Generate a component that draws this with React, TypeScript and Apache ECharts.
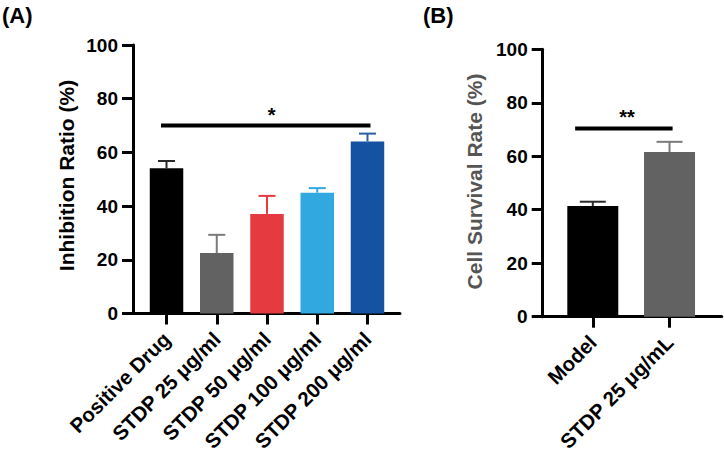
import React, { useEffect, useRef } from "react";
import * as echarts from "echarts";

const categoriesA = ["Positive Drug", "STDP 25 μg/ml", "STDP 50 μg/ml", "STDP 100 μg/ml", "STDP 200 μg/ml"];
const valuesA = [54.1, 22.5, 37.1, 45.0, 64.1];
const errorsA = [2.7, 6.8, 6.7, 1.7, 2.9];
const colorsA = ["#000000", "#626262", "#e43a40", "#31a9e0", "#1552a2"];
const errColorsA = ["#2a2a2a", "#7a7a7a", "#e43a40", "#31a9e0", "#2a5fa8"];

const categoriesB = ["Model", "STDP 25 μg/mL"];
const valuesB = [41.4, 61.6];
const errorsB = [1.6, 3.8];
const colorsB = ["#000000", "#626262"];
const errColorsB = ["#2a2a2a", "#7a7a7a"];

const yTickLabels = ["0", "20", "40", "60", "80", "100"];

// [from, to, y, labelX]
const sigA = [-0.11, 4.06, 70, 2.09];
const sigLabelA = "*";
const sigB = [-0.23, 1.04, 70.4, 0.446];
const sigLabelB = "**";

const FONT = "'Liberation Sans', Arial, Helvetica, sans-serif";

export default function App() {
  const ref = useRef<HTMLDivElement>(null);
  useEffect(() => {
    document.body.style.margin = "0";
    if (!ref.current) return;
    const chart = echarts.init(ref.current, undefined, { renderer: "svg" });

    const axisLine = { show: true, onZero: false, lineStyle: { color: "#000", width: 3 } };
    const axisTick = { show: true, length: 11, lineStyle: { color: "#000", width: 3 } };
    const labelStyle = { fontSize: 19, fontWeight: "bold", color: "#000", fontFamily: FONT };

    const yAxis = (gi: number) => ({
      gridIndex: gi,
      type: "value",
      min: 0,
      max: 100,
      interval: 20,
      axisLine,
      axisTick,
      splitLine: { show: false },
      axisLabel: { ...labelStyle, margin: 15, formatter: (v: number) => yTickLabels[Math.round(v / 20)] },
    });

    const xAxis = (gi: number, min: number, max: number, cats: string[]) => {
      const idx = cats.map((_, i) => i);
      return {
        gridIndex: gi,
        type: "value",
        min,
        max,
        axisLine,
        axisTick: { ...axisTick, customValues: idx },
        splitLine: { show: false },
        axisLabel: {
          ...labelStyle,
          fontSize: 20.5,
          lineHeight: 16,
          customValues: idx,
          rotate: 45,
          margin: 22,
          formatter: (v: number) => cats[Math.round(v)],
        },
      };
    };

    const errSeries = (gi: number, vals: number[], errs: number[], cols: string[], half: number) => ({
      type: "custom",
      xAxisIndex: gi,
      yAxisIndex: gi,
      z: 5,
      data: vals.map((v, i) => [i, v, errs[i]]),
      renderItem: (params: any, api: any) => {
        const x = api.value(0);
        const v = api.value(1);
        const e = api.value(2);
        const base = api.coord([x, v]);
        const top = api.coord([x, v + e]);
        const stroke = cols[params.dataIndex];
        return {
          type: "group",
          children: [
            { type: "line", shape: { x1: base[0], y1: base[1], x2: top[0], y2: top[1] }, style: { stroke, lineWidth: 2 } },
            { type: "line", shape: { x1: top[0] - half, y1: top[1], x2: top[0] + half, y2: top[1] }, style: { stroke, lineWidth: 2 } },
          ],
        };
      },
    });

    const sigSeries = (gi: number, sig: number[], label: string) => ({
      type: "custom",
      xAxisIndex: gi,
      yAxisIndex: gi,
      z: 6,
      data: [sig],
      renderItem: (params: any, api: any) => {
        const p1 = api.coord([api.value(0), api.value(2)]);
        const p2 = api.coord([api.value(1), api.value(2)]);
        const pl = api.coord([api.value(3), api.value(2)]);
        return {
          type: "group",
          children: [
            { type: "line", shape: { x1: p1[0], y1: p1[1], x2: p2[0], y2: p2[1] }, style: { stroke: "#000", lineWidth: 4 } },
            {
              type: "text",
              x: pl[0],
              y: pl[1] - 21,
              style: { text: label, fontSize: 20, fontWeight: "bold", fill: "#000", fontFamily: FONT, align: "center", verticalAlign: "top" },
            },
          ],
        };
      },
    });

    const barSeries = (gi: number, vals: number[], cols: string[], width: number) => ({
      type: "bar",
      xAxisIndex: gi,
      yAxisIndex: gi,
      barWidth: width,
      z: 3,
      data: vals.map((v, i) => ({ value: [i, v], itemStyle: { color: cols[i] } })),
    });

    chart.setOption({
      animation: false,
      grid: [
        { left: 133, top: 45, width: 267, height: 268.5, containLabel: false, outerBoundsMode: "none" },
        { left: 542.7, top: 49.3, width: 179, height: 267.4, containLabel: false, outerBoundsMode: "none" },
      ],
      xAxis: [xAxis(0, -0.667, 4.647, categoriesA), xAxis(1, -0.653, 1.68, categoriesB)],
      yAxis: [yAxis(0), yAxis(1)],
      series: [
        barSeries(0, valuesA, colorsA, 33.5),
        errSeries(0, valuesA, errorsA, errColorsA, 8.5),
        sigSeries(0, sigA, sigLabelA),
        barSeries(1, valuesB, colorsB, 51),
        errSeries(1, valuesB, errorsB, errColorsB, 13),
        sigSeries(1, sigB, sigLabelB),
      ],
      graphic: [
        { type: "text", left: 2, top: 4, style: { text: "(A)", fontSize: 22, fontWeight: "bold", fill: "#000", fontFamily: FONT } },
        { type: "text", left: 423, top: 4, style: { text: "(B)", fontSize: 22, fontWeight: "bold", fill: "#000", fontFamily: FONT } },
        {
          type: "text",
          x: 66,
          y: 175.5,
          rotation: Math.PI / 2,
          style: { text: "Inhibition Ratio (%)", fontSize: 21, fontWeight: "bold", fill: "#000", fontFamily: FONT, align: "center", verticalAlign: "middle" },
        },
        {
          type: "text",
          x: 474,
          y: 181.5,
          rotation: Math.PI / 2,
          style: { text: "Cell Survival Rate (%)", fontSize: 21, fontWeight: "bold", fill: "#555555", fontFamily: FONT, align: "center", verticalAlign: "middle" },
        },
      ],
    });
    return () => chart.dispose();
  }, []);
  return <div ref={ref} style={{ width: 724, height: 453, background: "#fff" }} />;
}
